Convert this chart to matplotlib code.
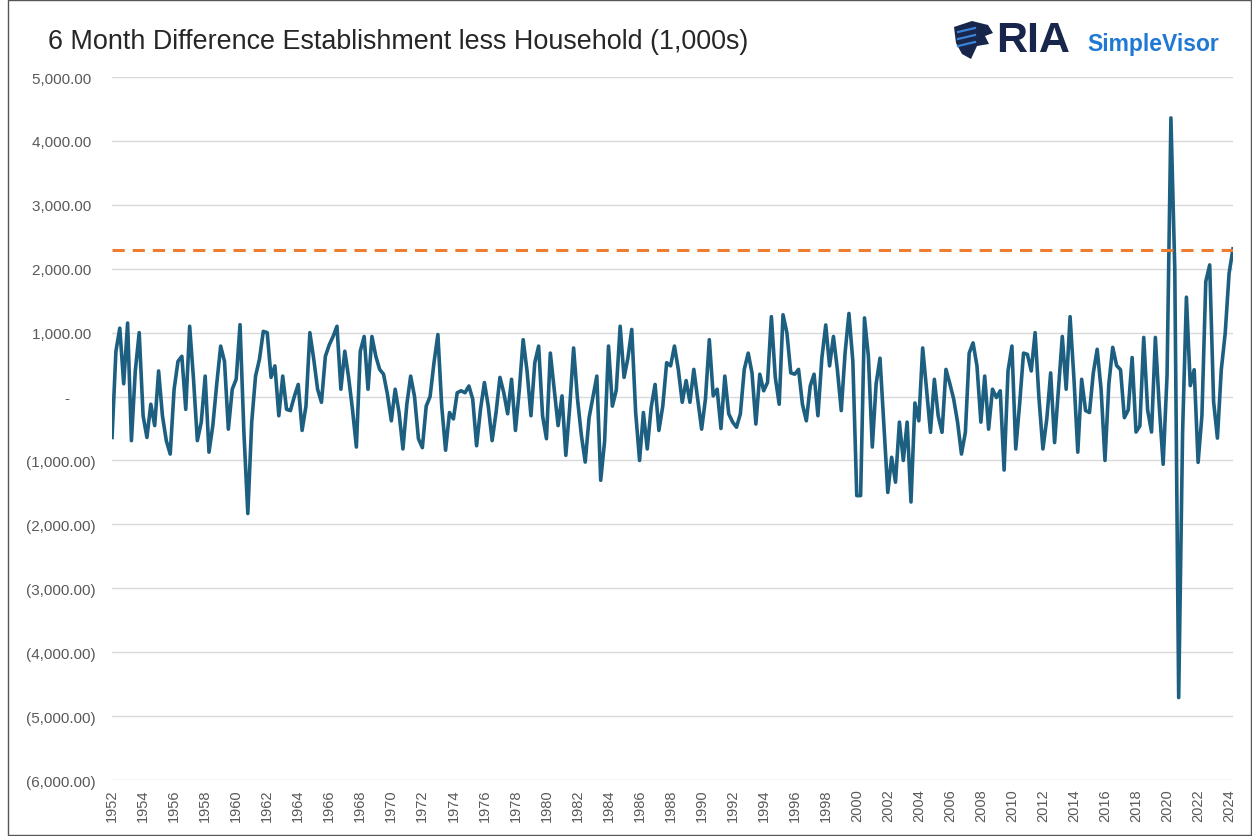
import matplotlib
matplotlib.use("Agg")
import matplotlib.pyplot as plt
import matplotlib.dates as mdates
import matplotlib.ticker as mticker
import numpy as np
import pandas as pd

plt.rcParams['font.family'] = ['Liberation Sans', 'DejaVu Sans']

# quarterly readings (1,000s), starting Q1 1952
vals_1950s = [-640, 710, 1070, 200,   1150, -690, 400, 1000,   -300, -640, -120, -455,
              400, -300, -690, -900,  115, 550, 630, -200,     1100, 280, -690, -400,
              320, -870, -450, 200,   790, 550, -510, 115]
vals_1960s = [270, 1125, -560, -1830, -400, 320, 580, 1020,    1000, 300, 480, -300,
              320, -200, -220, 0,     190, -530, -150, 1000,   580, 115, -90, 630,
              810, 940, 1100, 115,    710, 300, -200, -790,    710, 940, 115, 940,
              630, 425, 350, 35]
vals_1970s = [-380, 115, -250, -820,  -120, 320, 0, -660,      -800, -150, 0, 530,
              970, -150, -840, -250,  -350, 60, 90, 60,        165, -40, -770, -200,
              220, -150, -690, -250,  300, 60, -270, 270,      -530, 100, 890, 400,
              -300, 530, 790, -300]
vals_1980s = [-660, 680, 115, -455,   10, -920, -170, 760,     -40, -600, -1025, -330,
              0, 320, -1310, -700,    790, -150, 100, 1100,    300, 600, 1050, -250,
              -1000, -250, -820, -170, 190, -530, -150, 530,   480, 790, 425, -90,
              250, -90, 425, -40]
vals_1990s = [-510, -40, 890, 10,     115, -500, 320, -270,    -400, -480, -270, 425,
              680, 370, -430, 350,    90, 220, 1250, 300,      -120, 1280, 1000, 370,
              350, 425, -120, -380,   165, 350, -300, 600,     1120, 480, 940, 425,
              -220, 680, 1300, 550]
vals_2000s = [-1550, -1550, 1230, 630, -790, 200, 600, -455,   -1500, -950, -1340, -400,
              -1000, -400, -1650, -100, -380, 760, 115, -560,  270, -300, -560, 425,
              200, -40, -400, -900,   -560, 680, 840, 480,     -400, 320, -510, 115,
              -15, 90, -1150, 400]
vals_2010s = [790, -820, -120, 680,   660, 400, 1000, -40,     -820, -350, 370, -720,
              115, 940, 115, 1250,    270, -870, 270, -220,    -250, 370, 740, 115,
              -1000, 200, 770, 485,   420, -330, -210, 610,    -555, -460, 925, -210,
              -555, 925, -145, -1060]
vals_2020s = [330, 4360, 2000, -4710, -555, 1555, 170, 420,    -1030, -300, 1800, 2060,
              -80, -650, 420, 990,    1930, 2310]

values = np.array(vals_1950s + vals_1960s + vals_1970s + vals_1980s
                  + vals_1990s + vals_2000s + vals_2010s + vals_2020s, dtype=float)
dates = pd.date_range('1952-01-01', periods=len(values), freq='QS')

threshold = 2300
y_ticks = np.arange(-6000, 5001, 1000)
title = "6 Month Difference Establishment less Household (1,000s)"


def acct_fmt(v, pos):
    # excel accounting style labels
    if v == 0:
        return "-      "
    if v < 0:
        return f"({abs(v):,.2f})"
    return f"{v:,.2f} "


fig = plt.figure(figsize=(12.52, 8.37), dpi=100)
ax = fig.add_axes([0.0895, 0.0669, 0.8953, 0.8399])

ax.plot(dates, values, color='#1d5f80', linewidth=2.6, solid_joinstyle='round')
ax.axhline(threshold, color='#ed7d31', linewidth=2.2, linestyle=(0, (4, 2.6)))

ax.set_ylim(-6000, 5000)
ax.set_yticks(y_ticks)
ax.yaxis.set_major_formatter(mticker.FuncFormatter(acct_fmt))
ax.set_xlim(dates[0], dates[-1])
ax.xaxis.set_major_locator(mdates.YearLocator(2))
ax.xaxis.set_major_formatter(mdates.DateFormatter('%Y'))

ax.grid(axis='y', color='#d9d9d9', linewidth=1)
ax.set_axisbelow(True)
for s in ax.spines.values():
    s.set_visible(False)
ax.tick_params(axis='y', length=0, pad=12, labelsize=11, labelcolor='#595959')
ax.tick_params(axis='x', length=0, pad=6, labelsize=10.5, labelcolor='#595959',
               labelrotation=90)

fig.text(48 / 1252, 1 - 42 / 837, title, fontsize=19.4, color='#262626', va='center')

# logo: simple eagle-head badge + wordmark
px = lambda x, y: (x / 1252, 1 - y / 837)
head = [px(954, 28), px(972, 22), px(988, 26), px(993, 34), px(985, 37),
        px(989, 45), px(977, 47), px(971, 60), px(962, 55), px(956, 44)]
fig.patches.append(plt.Polygon(head, closed=True, transform=fig.transFigure,
                               facecolor='#17264a', edgecolor='none'))
for y0 in (33, 40, 47):
    fig.lines.append(plt.Line2D([958 / 1252, 975 / 1252],
                                [1 - y0 / 837, 1 - (y0 - 4) / 837],
                                transform=fig.transFigure, color='#3b82d6',
                                linewidth=1.6))
fig.text(996 / 1252, 1 - 41 / 837, "RIA", fontsize=31, fontweight='bold',
         color='#17264a', va='center')
fig.text(1087 / 1252, 1 - 44 / 837, "SimpleVisor", fontsize=16.5, fontweight='bold',
         color='#1f78d4', va='center')

# outer frame
fig.patches.append(plt.Rectangle((8 / 1252, 0.001), 1 - 9 / 1252, 0.998,
                                 transform=fig.transFigure, fill=False,
                                 edgecolor='#555555', linewidth=1))

fig.savefig("out.png", dpi=100)
